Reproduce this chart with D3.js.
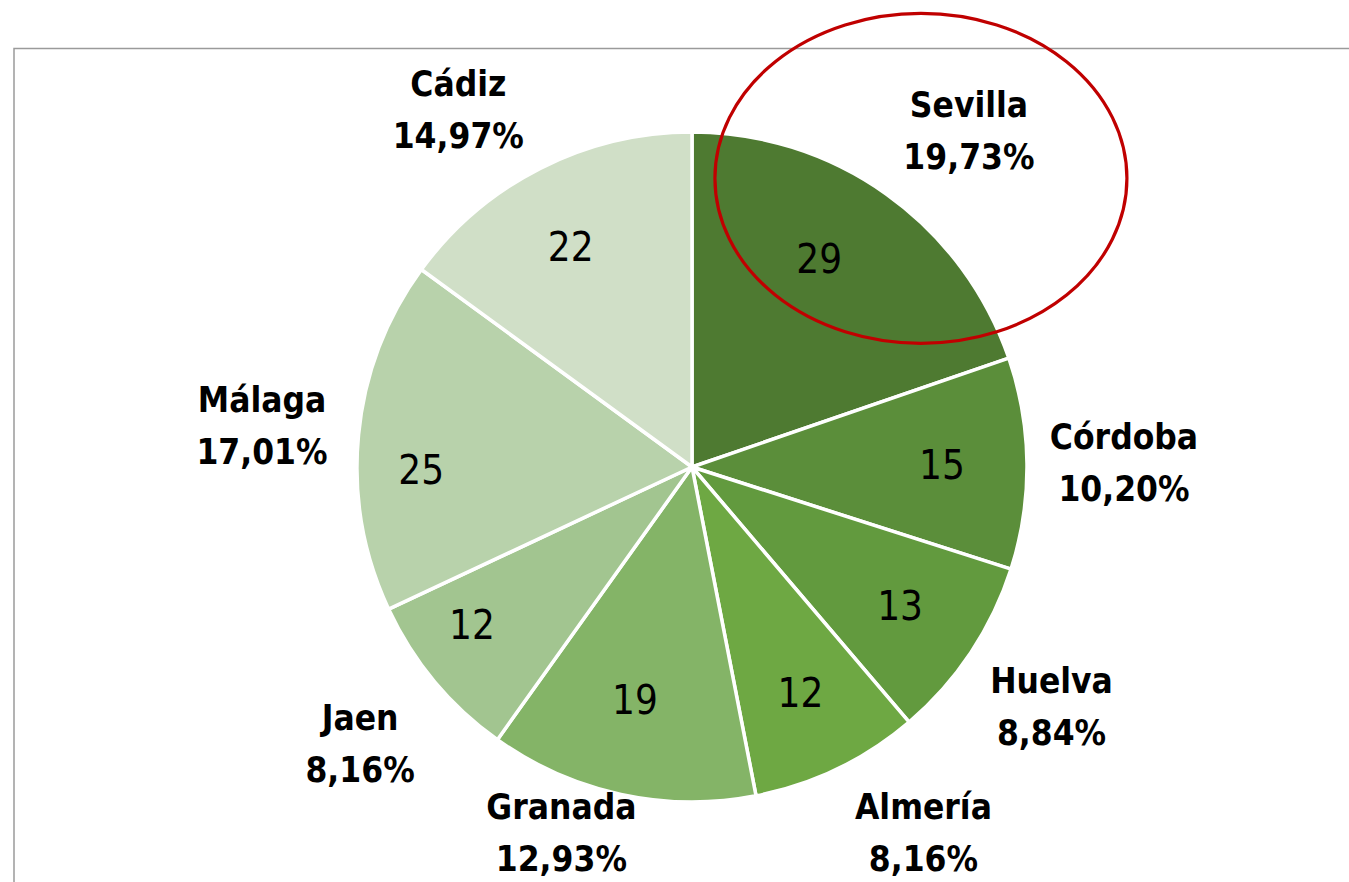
<!DOCTYPE html>
<html>
<head>
<meta charset="utf-8">
<script src="https://cdn.jsdelivr.net/npm/d3@7"></script>
<style>
    html, body { margin: 0; padding: 0; background: #fff; }
    svg { display: block; }
</style>
</head>
<body>
<div class="js-chart"></div>
<script>
'use strict';

//provinces clockwise from 12 o'clock
var provinces = ['Sevilla', 'Córdoba', 'Huelva', 'Almería', 'Granada', 'Jaen', 'Málaga', 'Cádiz'];
var counts = [29, 15, 13, 12, 19, 12, 25, 22];
var shares = ['19,73%', '10,20%', '8,84%', '8,16%', '12,93%', '8,16%', '17,01%', '14,97%'];
var greens = ['#4e7a31', '#5b8e3a', '#629a3e', '#6ea843', '#84b467', '#a2c590', '#b8d2ab', '#d0dfc7'];
var highlighted = 'Sevilla';

//label nudges (px) where the outside labels were pulled inside the frame
var labelShift = {
    'Sevilla': [26, 15],
    'Almería': [44, -24],
    'Granada': [-39, -57],
    'Cádiz': [-38, 28]
};

//small nudges for the count labels inside the slices
var valueShift = {
    'Sevilla': [-18, -5],
    'Granada': [-4, -12],
    'Jaen': [-28, -2],
    'Málaga': [-22, 27],
    'Cádiz': [-8, 2]
};

var dim = { w: 1349, h: 882 };
var center = { x: 692, y: 467 };
var radius = 335;
var font = '"DejaVu Sans Condensed", "Liberation Sans Narrow", sans-serif';

var svg = d3.select('.js-chart')
    .append('svg')
    .attr('width', dim.w)
    .attr('height', dim.h);

//chart area frame (only top and left edges are visible)
svg.append('path')
    .attr('d', 'M 14 ' + dim.h + ' V 48.5 H ' + dim.w)
    .style('fill', 'none')
    .style('stroke', '#9a9a9a')
    .style('stroke-width', 1.5);

var rows = provinces.map(function (name, i) {
    return { name: name, count: counts[i], share: shares[i], color: greens[i] };
});

var pie = d3.pie()
    .value(function (d) { return d.count; })
    .sort(null);

var arc = d3.arc().innerRadius(0).outerRadius(radius);
var valueArc = d3.arc().innerRadius(250).outerRadius(250);
var labelArc = d3.arc().innerRadius(432).outerRadius(432);

var vis = svg.append('g')
    .attr('transform', 'translate(' + center.x + ',' + center.y + ')');

var slices = pie(rows);

function shifted(arcGen, shifts) {
    return function (d) {
        var c = arcGen.centroid(d);
        var s = shifts[d.data.name] || [0, 0];
        return [c[0] + s[0], c[1] + s[1]];
    };
}
var valuePos = shifted(valueArc, valueShift);
var labelPos = shifted(labelArc, labelShift);

//slices
vis.selectAll('.js-slice')
    .data(slices)
    .enter()
    .append('path')
    .attr('class', 'js-slice')
    .attr('d', arc)
    .style('fill', function (d) { return d.data.color; })
    .style('stroke', '#fff')
    .style('stroke-width', 3.5)
    .style('stroke-linejoin', 'round');

//counts inside the slices
vis.selectAll('.js-value')
    .data(slices)
    .enter()
    .append('text')
    .attr('class', 'js-value')
    .attr('x', function (d) { return valuePos(d)[0]; })
    .attr('y', function (d) { return valuePos(d)[1]; })
    .attr('text-anchor', 'middle')
    .attr('dy', '0.36em')
    .style('font-family', font)
    .style('font-size', '40px')
    .style('fill', '#000')
    .text(function (d) { return d.data.count; });

//province name + share outside
var labels = vis.selectAll('.js-label')
    .data(slices)
    .enter()
    .append('text')
    .attr('class', 'js-label')
    .attr('transform', function (d) {
        var p = labelPos(d);
        return 'translate(' + p[0] + ',' + p[1] + ')';
    })
    .attr('text-anchor', 'middle')
    .style('font-family', font)
    .style('font-size', '35px')
    .style('font-weight', 'bold')
    .style('fill', '#000');

labels.append('tspan')
    .attr('x', 0)
    .attr('y', -26)
    .attr('dy', '0.36em')
    .text(function (d) { return d.data.name; });

labels.append('tspan')
    .attr('x', 0)
    .attr('y', 26)
    .attr('dy', '0.36em')
    .text(function (d) { return d.data.share; });

//red ring drawn around the highlighted province label
var hi = slices.filter(function (d) { return d.data.name === highlighted; })[0];
var hp = labelPos(hi);
vis.append('ellipse')
    .attr('cx', hp[0] - 48)
    .attr('cy', hp[1] + 48)
    .attr('rx', 206)
    .attr('ry', 165)
    .style('fill', 'none')
    .style('stroke', '#c00000')
    .style('stroke-width', 3.2);
</script>
</body>
</html>
